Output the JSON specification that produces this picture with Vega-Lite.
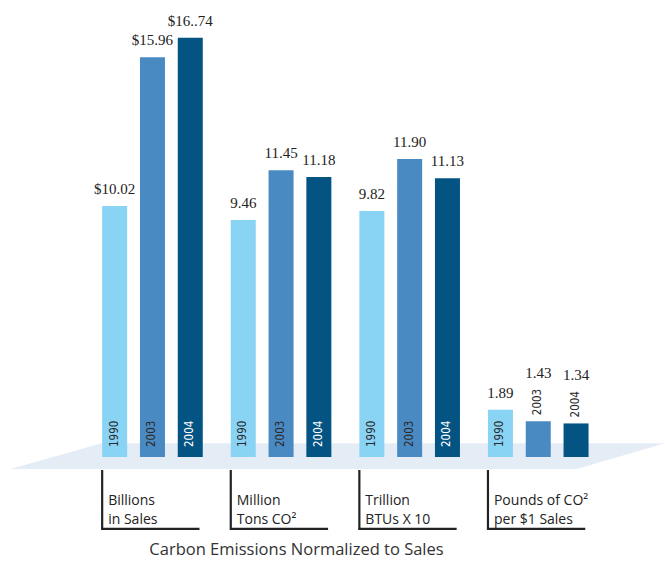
{
  "$schema": "https://vega.github.io/schema/vega-lite/v6.json",
  "width": 665,
  "height": 530,
  "autosize": {"type": "none"},
  "padding": {"left": 0, "top": 0, "right": 0, "bottom": 31},
  "background": "white",
  "config": {"view": {"stroke": null}},
  "title": {
    "text": "Carbon Emissions Normalized to Sales",
    "orient": "bottom",
    "anchor": "middle",
    "dx": -36,
    "offset": 11,
    "font": "Open Sans",
    "fontSize": 16.5,
    "fontWeight": "normal",
    "color": "#333333"
  },
  "datasets": {
    "bars": [
      {"group": "Billions in Sales", "year": "1990", "value": 10.02, "label": "$10.02"},
      {"group": "Billions in Sales", "year": "2003", "value": 15.96, "label": "$15.96"},
      {"group": "Billions in Sales", "year": "2004", "value": 16.74, "label": "$16..74"},
      {"group": "Million Tons CO2", "year": "1990", "value": 9.46, "label": "9.46"},
      {"group": "Million Tons CO2", "year": "2003", "value": 11.45, "label": "11.45"},
      {"group": "Million Tons CO2", "year": "2004", "value": 11.18, "label": "11.18"},
      {"group": "Trillion BTUs X 10", "year": "1990", "value": 9.82, "label": "9.82"},
      {"group": "Trillion BTUs X 10", "year": "2003", "value": 11.90, "label": "11.90"},
      {"group": "Trillion BTUs X 10", "year": "2004", "value": 11.13, "label": "11.13"},
      {"group": "Pounds of CO2 per $1 Sales", "year": "1990", "value": 1.89, "label": "1.89"},
      {"group": "Pounds of CO2 per $1 Sales", "year": "2003", "value": 1.43, "label": "1.43"},
      {"group": "Pounds of CO2 per $1 Sales", "year": "2004", "value": 1.34, "label": "1.34"}
    ],
    "groups": [
      {"group": "Billions in Sales", "lines": "Billions\nin Sales"},
      {"group": "Million Tons CO2", "lines": "Million\nTons CO²"},
      {"group": "Trillion BTUs X 10", "lines": "Trillion\nBTUs X 10"},
      {"group": "Pounds of CO2 per $1 Sales", "lines": "Pounds of CO²\nper $1 Sales"}
    ],
    "floor": [
      {"u": 0.0155, "top": -0.479, "bottom": -0.479},
      {"u": 0.1530, "top": 0.547, "bottom": -0.479},
      {"u": 0.8675, "top": 0.547, "bottom": -0.479},
      {"u": 1.0, "top": 0.547, "bottom": 0.547}
    ]
  },
  "layer": [
    {
      "data": {"name": "floor"},
      "mark": {"type": "area", "color": "#e4ecf6", "opacity": 1},
      "encoding": {
        "x": {"field": "u", "type": "quantitative", "scale": {"domain": [0, 1], "nice": false, "zero": false}, "axis": null},
        "y": {"field": "top", "type": "quantitative", "scale": {"domain": [-2.914, 18.244], "nice": false, "zero": false}, "axis": null},
        "y2": {"field": "bottom"}
      }
    },
    {
      "layer": [
        {
          "data": {"name": "bars"},
          "mark": {"type": "bar"},
          "encoding": {
            "x": {
              "field": "group", "type": "nominal",
              "scale": {
                "domain": ["Billions in Sales", "Million Tons CO2", "Trillion BTUs X 10", "Pounds of CO2 per $1 Sales"],
                "paddingInner": 0.2177, "paddingOuter": 0.6945, "align": 0.572, "round": false
              },
              "axis": null
            },
            "xOffset": {
              "field": "year", "type": "nominal",
              "scale": {"domain": ["1990", "2003", "2004"], "paddingInner": 0.3386, "paddingOuter": 0}
            },
            "y": {"field": "value", "type": "quantitative", "scale": {"domain": [-2.914, 18.244], "nice": false, "zero": false}, "axis": null},
            "color": {
              "field": "year", "type": "nominal",
              "scale": {"domain": ["1990", "2003", "2004"], "range": ["#89d4f5", "#4a8ac3", "#035383"]},
              "legend": null
            }
          }
        },
        {
          "data": {"name": "bars"},
          "transform": [{"filter": "datum.value >= 1.5"}],
          "mark": {"type": "text", "align": "center", "baseline": "alphabetic", "dy": -12, "font": "Liberation Serif", "fontSize": 15, "color": "#222222"},
          "encoding": {
            "x": {"field": "group", "type": "nominal"},
            "xOffset": {"field": "year", "type": "nominal"},
            "y": {"field": "value", "type": "quantitative"},
            "text": {"field": "label"}
          }
        },
        {
          "data": {"name": "bars"},
          "transform": [{"filter": "datum.value < 1.5"}],
          "mark": {"type": "text", "align": "center", "baseline": "alphabetic", "dy": -43, "font": "Liberation Serif", "fontSize": 15, "color": "#222222"},
          "encoding": {
            "x": {"field": "group", "type": "nominal"},
            "xOffset": {"field": "year", "type": "nominal"},
            "y": {"field": "value", "type": "quantitative"},
            "text": {"field": "label"}
          }
        },
        {
          "data": {"name": "bars"},
          "transform": [{"filter": "datum.value >= 1.5"}],
          "mark": {"type": "text", "angle": 270, "align": "left", "baseline": "middle", "dx": 10, "font": "DejaVu Sans Condensed, Open Sans", "fontSize": 11.5},
          "encoding": {
            "x": {"field": "group", "type": "nominal"},
            "xOffset": {"field": "year", "type": "nominal"},
            "y": {"datum": 0},
            "text": {"field": "year"},
            "color": {"condition": {"test": "datum.year == '2004'", "value": "#ffffff"}, "value": "#2a2a2a"}
          }
        },
        {
          "data": {"name": "bars"},
          "transform": [{"filter": "datum.value < 1.5"}],
          "mark": {"type": "text", "angle": 270, "align": "left", "baseline": "middle", "dx": 6, "font": "DejaVu Sans Condensed, Open Sans", "fontSize": 11.5, "color": "#2a2a2a"},
          "encoding": {
            "x": {"field": "group", "type": "nominal"},
            "xOffset": {"field": "year", "type": "nominal"},
            "y": {"field": "value", "type": "quantitative"},
            "text": {"field": "year"}
          }
        },
        {
          "data": {"name": "groups"},
          "mark": {"type": "rule", "strokeWidth": 2.2, "color": "#222222"},
          "encoding": {
            "x": {"field": "group", "type": "nominal", "bandPosition": 0},
            "y": {"datum": -0.52},
            "y2": {"datum": -2.914}
          }
        },
        {
          "data": {"name": "groups"},
          "mark": {"type": "tick", "size": 98, "thickness": 2.2, "color": "#222222", "opacity": 1, "xOffset": -2},
          "encoding": {
            "x": {"field": "group", "type": "nominal"},
            "y": {"datum": -2.87}
          }
        },
        {
          "data": {"name": "groups"},
          "mark": {"type": "text", "align": "left", "baseline": "alphabetic", "dx": 6, "font": "Open Sans", "fontSize": 14, "lineBreak": "\n", "lineHeight": 19, "color": "#222222"},
          "encoding": {
            "x": {"field": "group", "type": "nominal", "bandPosition": 0},
            "y": {"datum": -1.916},
            "text": {"field": "lines"}
          }
        }
      ]
    }
  ],
  "resolve": {"scale": {"x": "independent"}}
}
